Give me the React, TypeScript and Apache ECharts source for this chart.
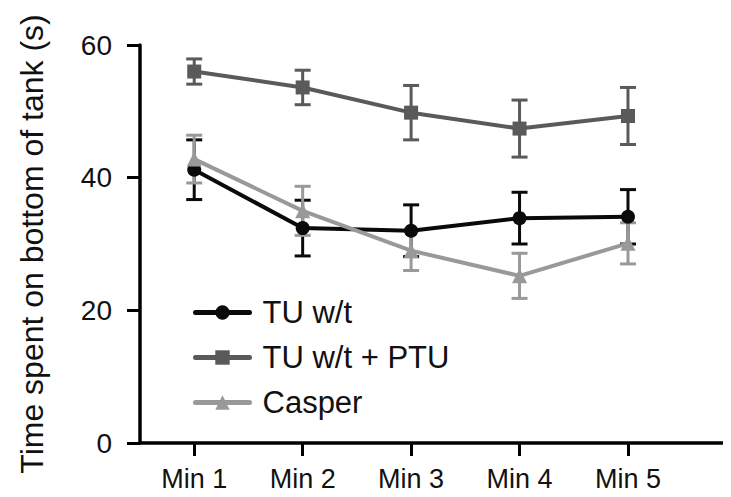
import React, { useEffect, useRef } from "react";
import * as echarts from "echarts";

const categories = ["Min 1", "Min 2", "Min 3", "Min 4", "Min 5"];
const tuMean = [41.2, 32.4, 32.0, 33.9, 34.1];
const tuErr = [4.5, 4.2, 3.9, 3.9, 4.1];
const ptuMean = [56.0, 53.6, 49.8, 47.4, 49.3];
const ptuErr = [1.9, 2.6, 4.1, 4.3, 4.3];
const casperMean = [42.8, 35.0, 29.0, 25.2, 30.1];
const casperErr = [3.6, 3.7, 3.0, 3.4, 3.1];
const yTicks = [0, 20, 40, 60];

const FONT = "Liberation Sans, Arial, Helvetica, sans-serif";
const C_TU = "#0a0a0a";
const C_PTU = "#5a5a5a";
const C_CAS = "#999999";

function pts(means: number[]) {
  return means.map((v, i) => [i + 1, v]);
}
function errs(means: number[], e: number[]) {
  return means.map((v, i) => [i + 1, v - e[i], v + e[i]]);
}

function errorSeries(name: string, means: number[], e: number[], color: string, z: number) {
  return {
    type: "custom",
    name: name + "_err",
    z,
    silent: true,
    encode: { x: 0, y: [1, 2] },
    data: errs(means, e),
    renderItem: (params: any, api: any) => {
      const x = api.value(0);
      const lo = api.coord([x, api.value(1)]);
      const hi = api.coord([x, api.value(2)]);
      const hw = 8;
      const style = { stroke: color, lineWidth: 3, fill: "none" };
      return {
        type: "group",
        children: [
          { type: "line", shape: { x1: lo[0], y1: lo[1], x2: hi[0], y2: hi[1] }, style },
          { type: "line", shape: { x1: lo[0] - hw, y1: lo[1], x2: lo[0] + hw, y2: lo[1] }, style },
          { type: "line", shape: { x1: hi[0] - hw, y1: hi[1], x2: hi[0] + hw, y2: hi[1] }, style },
        ],
      };
    },
  };
}

function lineSeries(name: string, means: number[], color: string, symbol: string, size: number, z: number) {
  return {
    type: "line",
    name,
    z,
    data: pts(means),
    symbol,
    symbolSize: size,
    showAllSymbol: true,
    lineStyle: { color, width: 4, cap: "round" },
    itemStyle: { color, borderWidth: 0 },
  };
}

export default function App() {
  const ref = useRef<HTMLDivElement>(null);
  useEffect(() => {
    const chart = echarts.init(ref.current!, null, { renderer: "svg" });
    chart.setOption({
      animation: false,
      backgroundColor: "#ffffff",
      grid: { left: 140, right: 0, top: 45, bottom: 54, containLabel: false },
      legend: {
        orient: "vertical",
        left: 188,
        top: 292,
        itemWidth: 54,
        itemHeight: 18,
        itemGap: 14,
        lineStyle: { width: 5, cap: "round" },
        textStyle: { fontFamily: FONT, fontSize: 31, color: "#111", padding: [0, 0, 0, 8] },
        data: ["TU w/t", "TU w/t + PTU", "Casper"],
      },
      xAxis: {
        type: "value",
        min: 0.5,
        max: 5.95,
        splitLine: { show: false },
        axisLine: { show: true, lineStyle: { color: "#000", width: 3.5 } },
        axisTick: { show: true, length: 13, lineStyle: { color: "#000", width: 3 }, customValues: [1, 2, 3, 4, 5] },
        axisLabel: {
          customValues: [1, 2, 3, 4, 5],
          formatter: (v: number) => categories[Math.round(v) - 1] ?? "",
          fontFamily: FONT,
          fontSize: 27,
          color: "#111",
          margin: 22,
        },
      },
      yAxis: {
        type: "value",
        min: 0,
        max: 60,
        interval: 20,
        name: "Time spent on bottom of tank (s)",
        nameLocation: "middle",
        nameGap: 92,
        nameTextStyle: { fontFamily: FONT, fontSize: 32, color: "#111" },
        splitLine: { show: false },
        axisLine: { show: true, lineStyle: { color: "#000", width: 3.5 } },
        axisTick: { show: true, length: 13, lineStyle: { color: "#000", width: 3 } },
        axisLabel: {
          fontFamily: FONT,
          fontSize: 28,
          color: "#111",
          margin: 28,
          formatter: (v: number) => (yTicks.includes(v) ? String(v) : ""),
        },
      },
      series: [
        errorSeries("TU w/t", tuMean, tuErr, C_TU, 2),
        errorSeries("TU w/t + PTU", ptuMean, ptuErr, C_PTU, 2),
        errorSeries("Casper", casperMean, casperErr, C_CAS, 2),
        lineSeries("TU w/t", tuMean, C_TU, "circle", 14, 3),
        lineSeries("TU w/t + PTU", ptuMean, C_PTU, "rect", 14, 3),
        lineSeries("Casper", casperMean, C_CAS, "triangle", 15, 4),
      ],
    });
    return () => chart.dispose();
  }, []);
  return <div ref={ref} style={{ width: 731, height: 497, margin: -8 }} />;
}
